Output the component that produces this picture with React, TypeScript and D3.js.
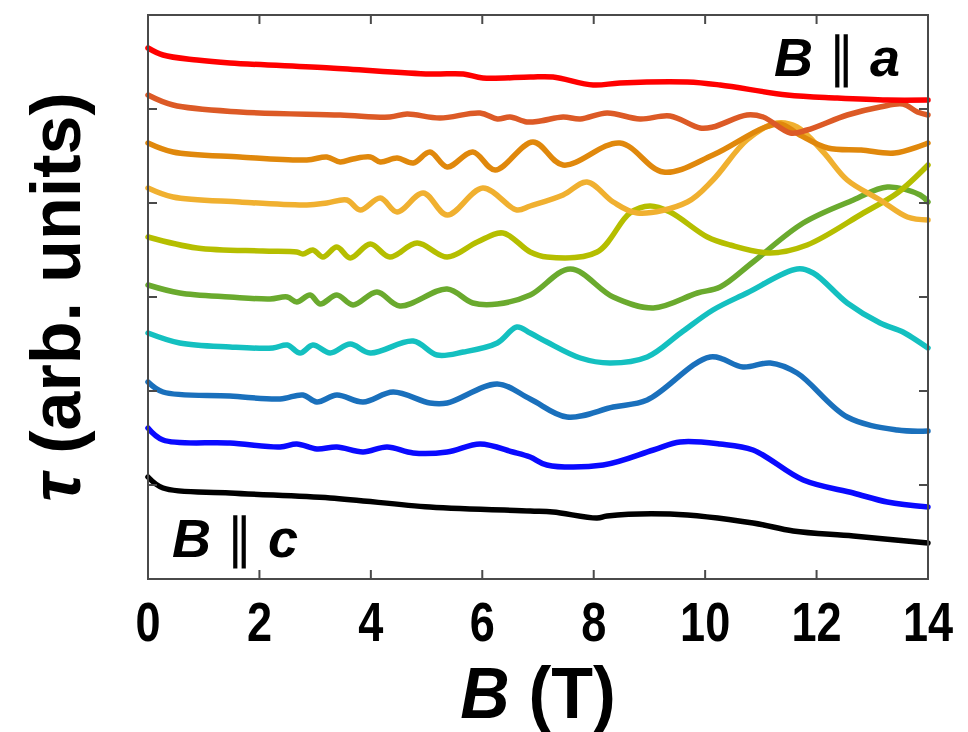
import React from 'react';
import * as d3 from 'd3';

// B (T) sample positions and torque (arb. units, offset curves) per angle
const bRed = [0, 0.27, 0.88, 1.47, 3.27, 5.06, 5.66, 6.01, 6.86, 7.27, 7.99, 8.47, 9.68, 10.27, 11.47, 12.37, 13.27, 14];
const tRed = [531, 524, 519, 516, 511, 505, 505, 501, 502, 502, 494, 496, 497, 494, 484, 481, 479, 479];

const bOrangeRed = [0, 0.45, 1.65, 3.45, 4.34, 4.65, 5.24, 5.96, 6.27, 6.5, 6.8, 7.04, 7.45, 7.76, 8.24, 8.83, 9.37, 9.91, 10.14, 10.75, 11.04, 11.53, 11.83, 12.55, 13.14, 13.55, 13.81, 14];
const tOrangeRed = [484, 474, 467, 464, 462, 465, 461, 466, 460, 462, 457, 458, 462, 460, 466, 460, 463, 451, 452, 464, 462, 446, 449, 464, 472, 475, 467, 464];

const bOrange = [0, 0.45, 1.65, 2.85, 3.21, 3.45, 3.68, 3.99, 4.17, 4.47, 4.76, 5.06, 5.37, 5.83, 6.23, 6.91, 7.45, 8.47, 9.25, 10.14, 11.04, 11.35, 11.7, 12.2, 12.8, 13.4, 14];
const tOrange = [436, 427, 422, 419, 422, 417, 420, 422, 417, 421, 416, 427, 412, 427, 409, 437, 414, 436, 407, 424, 451, 455, 444, 431, 429, 426, 436];

const bLightOrange = [0, 0.45, 1.65, 2.85, 3.21, 3.57, 3.81, 4.17, 4.47, 4.94, 5.37, 6.01, 6.62, 6.86, 7.45, 7.88, 8.35, 8.78, 9.68, 10.14, 10.75, 11.29, 11.65, 12.12, 12.55, 13.14, 13.63, 14];
const tLightOrange = [391, 382, 377, 374, 376, 379, 369, 381, 367, 386, 364, 391, 369, 373, 384, 397, 377, 366, 377, 399, 439, 456, 452, 427, 399, 379, 362, 359];

const bYellowGreen = [0, 0.88, 2.06, 2.67, 2.78, 2.96, 3.14, 3.39, 3.63, 3.99, 4.34, 4.83, 5.37, 5.91, 6.37, 6.86, 7.16, 8.06, 8.65, 9.01, 9.37, 10.04, 10.45, 11.17, 11.83, 12.84, 13.45, 14];
const tYellowGreen = [342, 331, 328, 327, 325, 329, 322, 332, 321, 335, 322, 336, 322, 337, 346, 327, 322, 327, 366, 373, 367, 342, 334, 326, 334, 366, 386, 414];

const bGreen = [0, 0.57, 1.47, 2.19, 2.5, 2.67, 2.91, 3.09, 3.39, 3.68, 4.11, 4.52, 5.37, 5.83, 6.27, 6.86, 7.58, 8.35, 9.07, 9.86, 10.27, 10.86, 11.76, 12.66, 13.27, 13.86, 14];
const tGreen = [294, 286, 282, 280, 282, 277, 284, 275, 284, 274, 287, 273, 290, 276, 275, 284, 310, 282, 271, 286, 292, 317, 356, 379, 392, 384, 377];

const bCyan = [0, 0.57, 1.47, 2.24, 2.5, 2.73, 2.96, 3.27, 3.63, 3.99, 4.76, 5.19, 5.66, 6.27, 6.62, 6.86, 7.16, 7.76, 8.29, 8.96, 9.56, 10.14, 10.75, 11.65, 11.94, 12.55, 13.14, 13.55, 14];
const tCyan = [246, 236, 232, 231, 234, 226, 234, 226, 235, 226, 238, 224, 227, 236, 252, 246, 237, 221, 216, 222, 246, 269, 286, 310, 306, 276, 256, 247, 231];

const bSteel = [0, 0.27, 1.47, 2.37, 2.78, 3.03, 3.39, 3.86, 4.4, 5.06, 5.37, 6.27, 6.86, 7.52, 8.35, 8.96, 10.09, 10.68, 11.17, 11.65, 12.55, 13.45, 14];
const tSteel = [197, 187, 183, 180, 184, 177, 184, 177, 187, 176, 176, 195, 180, 162, 172, 179, 222, 212, 216, 206, 162, 149, 148];

const bBlue = [0, 0.27, 1.47, 2.37, 2.67, 3.03, 3.39, 3.86, 4.29, 4.76, 5.37, 5.96, 6.55, 6.86, 7.16, 8.17, 9.07, 9.55, 10.27, 10.86, 11.76, 12.66, 13.27, 14];
const tBlue = [151, 139, 136, 132, 135, 130, 132, 127, 132, 126, 127, 135, 127, 122, 114, 114, 129, 137, 135, 129, 99, 86, 77, 72];

const bBlack = [0, 0.27, 1.47, 3.27, 5.06, 6.86, 7.27, 8.06, 8.24, 9.37, 10.86, 11.58, 12.66, 14];
const tBlack = [102, 91, 86, 81, 72, 68, 67, 61, 63, 65, 56, 48, 43, 36];

const seriesB = [bBlack, bBlue, bSteel, bCyan, bGreen, bYellowGreen, bLightOrange, bOrange, bOrangeRed, bRed];
const seriesT = [tBlack, tBlue, tSteel, tCyan, tGreen, tYellowGreen, tLightOrange, tOrange, tOrangeRed, tRed];
const seriesColors = ['#000000', '#0a0aff', '#1a70bc', '#14c0c0', '#6aaa2e', '#b5be00', '#f0b030', '#e0880c', '#dc5a26', '#ff0000'];

const xTicks = [0, 2, 4, 6, 8, 10, 12, 14];
const yTicks = [94, 188, 282, 376, 470];

const W = 968;
const H = 732;
const left = 148;
const right = 928;
const top = 15;
const bottom = 579;

export default function App() {
  const x = d3.scaleLinear().domain([0, 14]).range([left, right]);
  const y = d3.scaleLinear().domain([0, 564]).range([bottom, top]);
  const line = d3
    .line<[number, number]>()
    .x((d) => x(d[0]))
    .y((d) => y(d[1]))
    .curve(d3.curveCatmullRom.alpha(0.5));

  const frame = '#4a4a4a';
  const tickLen = 9;
  const font = "'Liberation Sans', Arial, sans-serif";

  return (
    <svg width={W} height={H} style={{ position: 'absolute', left: 0, top: 0, background: '#fff' }}>
      {seriesB.map((bs, i) => (
        <path
          key={i}
          d={line(bs.map((b, j) => [b, seriesT[i][j]]) as [number, number][]) || ''}
          fill="none"
          stroke={seriesColors[i]}
          strokeWidth={5.5}
          strokeLinecap="round"
          strokeLinejoin="round"
        />
      ))}
      <rect x={left} y={top} width={right - left} height={bottom - top} fill="none" stroke={frame} strokeWidth={2} />
      {xTicks.slice(1, -1).map((t) => (
        <g key={'xt' + t}>
          <line x1={x(t)} x2={x(t)} y1={bottom} y2={bottom - tickLen} stroke={frame} strokeWidth={2} />
          <line x1={x(t)} x2={x(t)} y1={top} y2={top + tickLen} stroke={frame} strokeWidth={2} />
        </g>
      ))}
      {yTicks.map((t) => (
        <g key={'yt' + t}>
          <line x1={left} x2={left + tickLen} y1={y(t)} y2={y(t)} stroke={frame} strokeWidth={2} />
          <line x1={right} x2={right - tickLen} y1={y(t)} y2={y(t)} stroke={frame} strokeWidth={2} />
        </g>
      ))}
      {xTicks.map((t) => (
        <text
          key={'xl' + t}
          transform={`translate(${x(t)}, 641) scale(0.82, 1)`}
          textAnchor="middle"
          fontFamily={font}
          fontWeight="bold"
          fontSize={55}
          fill="#000"
        >
          {t}
        </text>
      ))}
      <text
        transform={`translate(${(left + right) / 2}, 718) scale(0.95, 1)`}
        textAnchor="middle"
        fontFamily={font}
        fontWeight="bold"
        fontSize={72}
        fill="#000"
      >
        <tspan fontStyle="italic">B</tspan> (T)
      </text>
      <text
        transform={`translate(80, ${(top + bottom) / 2}) rotate(-90)`}
        textAnchor="middle"
        fontFamily={font}
        fontWeight="bold"
        fontSize={70}
        fill="#000"
      >
        <tspan fontStyle="italic">τ</tspan> (arb. units)
      </text>
      <text x={900} y={76} textAnchor="end" fontFamily={font} fontWeight="bold" fontSize={54} fill="#000">
        <tspan fontStyle="italic">B</tspan>
        <tspan fontWeight="normal"> ∥ </tspan>
        <tspan fontStyle="italic">a</tspan>
      </text>
      <text x={172} y={557} textAnchor="start" fontFamily={font} fontWeight="bold" fontSize={54} fill="#000">
        <tspan fontStyle="italic">B</tspan>
        <tspan fontWeight="normal"> ∥ </tspan>
        <tspan fontStyle="italic">c</tspan>
      </text>
    </svg>
  );
}
